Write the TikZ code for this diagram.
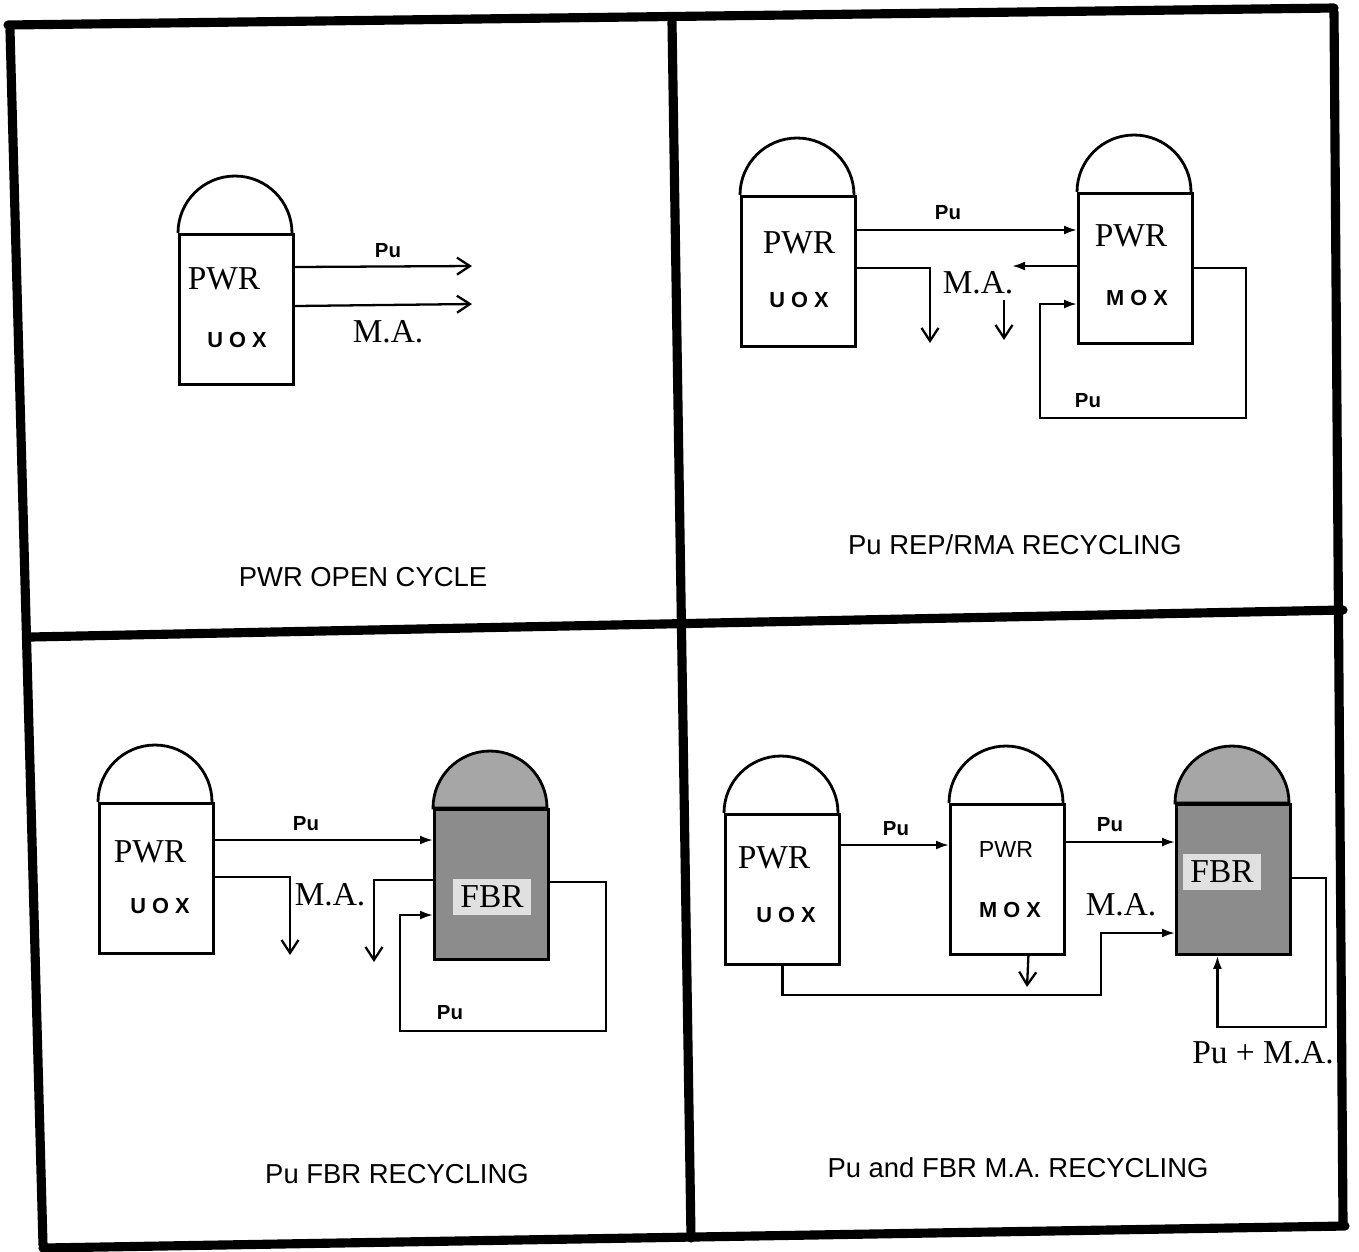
\documentclass[tikz,border=0pt]{standalone}
\usepackage{fontspec}
\setmainfont{Liberation Serif}
\setsansfont{Liberation Sans}
\usetikzlibrary{arrows.meta,calc,positioning}

\tikzset{
  vessel/.style={draw,line width=.8pt,minimum width=11.4mm,minimum height=15mm,inner sep=0pt,anchor=north west},
  fastcore/.style={vessel,fill=black!45},
  rname/.style={font=\fontsize{9.5}{11}\selectfont,inner sep=1pt},
  fuel/.style={font=\sffamily\bfseries\fontsize{6.2}{7}\selectfont\addfontfeature{LetterSpace=28},inner sep=1pt},
  flow/.style={font=\sffamily\bfseries\fontsize{5.8}{6}\selectfont,inner sep=1pt},
  fbrtag/.style={rname,fill=black!12,inner sep=2pt},
  cyclename/.style={font=\sffamily\fontsize{7.8}{9}\selectfont},
  panelline/.style={line width=2.6pt,line cap=round},
  pipe/.style={line width=.65pt},
  outflow/.style={pipe,-{Straight Barb[length=1.3mm,width=1.7mm]}},
  inflow/.style={pipe,-{Latex[length=1.3mm,width=.9mm]}},
}

\begin{document}
\begin{tikzpicture}[x=0.1mm,y=-0.1mm]
  \fill[white] (0,0) rectangle (1359,1251);
  \useasboundingbox (0,0) rectangle (1359,1251);

  % frame of the four panels
  \draw[panelline] (8,25) -- (1334,8);
  \draw[panelline] (10,30) -- (43,1245);
  \draw[panelline] (672,22) -- (691,1238);
  \draw[panelline] (1334,12) -- (1343,1225);
  \draw[panelline] (30,637) -- (1343,610);
  \draw[panelline] (43,1248) -- (1345,1226);

  % reactor bodies
  \node[vessel] (uoxA) at (178,233) {};
  \node[vessel] (uoxB) at (740,195) {};
  \node[vessel] (moxB) at (1077,192) {};
  \node[vessel] (uoxC) at (98,802) {};
  \node[fastcore] (fbrC) at (433,808) {};
  \node[vessel] (uoxD) at (724,813) {};
  \node[vessel] (moxD) at (949,803) {};
  \node[fastcore] (fbrD) at (1175,803) {};

  % domes
  \foreach \r in {uoxA,uoxB,moxB,uoxC,uoxD,moxD}
    \draw[line width=.8pt] (\r.north west) arc[start angle=180,end angle=0,radius=5.7mm];
  \foreach \r in {fbrC,fbrD}
    \draw[line width=.8pt,fill=black!35] (\r.north west) arc[start angle=180,end angle=0,radius=5.7mm] -- cycle;

  % PWR open cycle
  \node[rname] (pwrA) at (224,279) {PWR};
  \node[fuel] (fuelA) at (237,340) {UOX};
  \coordinate (puEndA) at (472,266);
  \coordinate (maEndA) at (472,304);
  \draw[outflow] ($(uoxA.north east)+(0,34)$) -- (puEndA);
  \draw[outflow] ($(uoxA.north east)+(0,73)$) -- (maEndA);
  \node[flow] (puTagA) at (388,251) {Pu};
  \node[rname] (maTagA) at (388,332) {M.A.};
  \node[cyclename] (capA) at (363,577) {PWR OPEN CYCLE};

  % Pu REP/RMA recycling
  \node[rname] (pwrB) at (799,243) {PWR};
  \node[fuel] (fuelB) at (799,300) {UOX};
  \node[rname] (pwrB2) at (1131,236) {PWR};
  \node[fuel] (fuelB2) at (1137,298) {MOX};
  \draw[inflow] ($(uoxB.north east)+(0,35)$) coordinate (puStartB) -- (puStartB -| moxB.west);
  \coordinate (maDropB) at (930,343);
  \draw[outflow] ($(uoxB.north east)+(0,73)$) -| (maDropB);
  \coordinate (maBackB) at (1012,266);
  \draw[inflow] ($(moxB.north west)+(0,74)$) -- (maBackB);
  \coordinate (maTopB) at (1004,300);
  \coordinate (maBotB) at (1004,340);
  \draw[outflow] (maTopB) -- (maBotB);
  \coordinate (loopB1) at (1246,418);
  \coordinate (loopB2) at (1040,304);
  \draw[inflow] ($(moxB.north east)+(0,76)$) -| (loopB1) -| (loopB2) -- ($(moxB.north west)+(0,112)$);
  \node[flow] (puTagB) at (948,213) {Pu};
  \node[rname] (maTagB) at (978,283) {M.A.};
  \node[flow] (puTagB2) at (1088,401) {Pu};
  \node[cyclename] (capB) at (1015,545) {Pu REP/RMA RECYCLING};

  % Pu FBR recycling
  \node[rname] (pwrC) at (150,852) {PWR};
  \node[fuel] (fuelC) at (160,906) {UOX};
  \node[fbrtag] (fbrTagC) at (492,897) {FBR};
  \draw[inflow] ($(uoxC.north east)+(0,38)$) coordinate (puStartC) -- (puStartC -| fbrC.west);
  \coordinate (maDropC) at (290,955);
  \draw[outflow] ($(uoxC.north east)+(0,75)$) -| (maDropC);
  \coordinate (maDropC2) at (374,962);
  \draw[outflow] ($(fbrC.north west)+(0,72)$) -| (maDropC2);
  \coordinate (loopC1) at (606,1031);
  \coordinate (loopC2) at (400,915);
  \draw[inflow] ($(fbrC.north east)+(0,74)$) -| (loopC1) -| (loopC2) -- ($(fbrC.north west)+(0,107)$);
  \node[flow] (puTagC) at (306,824) {Pu};
  \node[rname] (maTagC) at (330,895) {M.A.};
  \node[flow] (puTagC2) at (450,1013) {Pu};
  \node[cyclename] (capC) at (397,1174) {Pu FBR RECYCLING};

  % Pu and FBR M.A. recycling
  \node[rname] (pwrD) at (774,858) {PWR};
  \node[fuel] (fuelD) at (786,915) {UOX};
  \node[font=\sffamily\fontsize{6.6}{8}\selectfont] (pwrD2) at (1006,849) {PWR};
  \node[fuel] (fuelD2) at (1010,910) {MOX};
  \node[fbrtag] (fbrTagD) at (1222,872) {FBR};
  \draw[inflow] ($(uoxD.north east)+(0,32)$) coordinate (puStartD) -- (puStartD -| moxD.west);
  \draw[inflow] ($(moxD.north east)+(0,39)$) coordinate (puMidD) -- (puMidD -| fbrD.west);
  \coordinate (maRunD) at (1101,995);
  \draw[inflow] (uoxD.south) |- (maRunD) |- ($(fbrD.north west)+(0,130)$);
  \coordinate (maDropD) at (1027,987);
  \draw[outflow] ($(moxD.south)+(21,0)$) -- (maDropD);
  \coordinate (loopD1) at (1326,1027);
  \draw[inflow] ($(fbrD.north east)+(0,75)$) -| (loopD1) -| ($(fbrD.south)+(-16,0)$);
  \node[flow] (puTagD) at (896,829) {Pu};
  \node[flow] (puTagD2) at (1110,825) {Pu};
  \node[rname] (maTagD) at (1121,905) {M.A.};
  \node[rname] (pumaTagD) at (1263,1053) {Pu + M.A.};
  \node[cyclename] (capD) at (1018,1168) {Pu and FBR M.A. RECYCLING};
\end{tikzpicture}
\end{document}
